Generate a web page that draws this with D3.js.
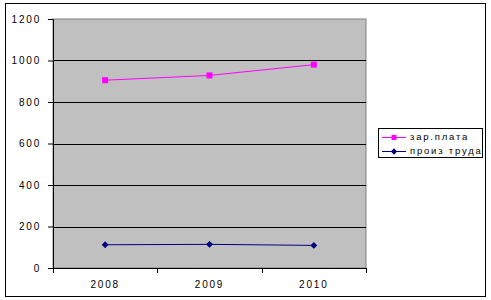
<!DOCTYPE html>
<html>
<head>
<meta charset="utf-8">
<script src="https://cdn.jsdelivr.net/npm/d3@7"></script>
<style>
  body { margin: 0; background: #fff; }
  text { font-family: Arial, "Liberation Sans", sans-serif; font-size: 10px; fill: #000; }
</style>
</head>
<body>
<div id="chart"></div>
<script>
// Data
const years = ['2008', '2009', '2010'];
const salary = [905, 928, 980];       // зар.плата
const productivity = [112, 114, 109]; // произ труда
const yTicks = [0, 200, 400, 600, 800, 1000, 1200];
const seriesNames = ['зар.плата', 'произ труда'];

const width = 491, height = 300;
const margin = { top: 19, right: 125, bottom: 32, left: 53 };
const plotW = width - margin.left - margin.right;
const plotH = height - margin.top - margin.bottom;

const svg = d3.select('#chart').append('svg')
    .attr('width', width)
    .attr('height', height);

// Outer chart frame
svg.append('rect')
    .attr('x', 5.5).attr('y', 3.5)
    .attr('width', 480).attr('height', 293)
    .attr('fill', '#fff')
    .attr('stroke', '#000')
    .attr('stroke-width', 1);

const chart = svg.append('g')
    .attr('transform', `translate(${margin.left},${margin.top})`);

const x = d3.scaleBand().domain(years).range([0, plotW]);
const y = d3.scaleLinear().domain([0, 1200]).range([plotH, 0]);

// Plot area
chart.append('rect')
    .attr('width', plotW).attr('height', plotH)
    .attr('fill', '#c0c0c0')
    .attr('stroke', '#808080');

// Gridlines
chart.selectAll('.grid')
    .data(yTicks.slice(1, -1))
    .join('line')
    .attr('class', 'grid')
    .attr('x1', 0).attr('x2', plotW)
    .attr('y1', d => Math.round(y(d)) + 0.5)
    .attr('y2', d => Math.round(y(d)) + 0.5)
    .attr('stroke', '#000');

// Y axis
const yAxis = chart.append('g')
    .call(d3.axisLeft(y).tickValues(yTicks).tickFormat(d3.format('d')).tickSize(5).tickPadding(7));
yAxis.select('.domain').attr('stroke', '#000');
yAxis.selectAll('text')
    .style('letter-spacing', '1.8px')
    .style('font-family', 'Arial, "Liberation Sans", sans-serif')
    .style('font-size', '10px');

// X axis with ticks between categories
const xAxisG = chart.append('g')
    .attr('transform', `translate(0,${plotH})`);
xAxisG.append('line')
    .attr('x1', 0).attr('x2', plotW)
    .attr('y1', 0.5).attr('y2', 0.5)
    .attr('stroke', '#000');
const boundaries = years.map(d => x(d)).concat([plotW]);
xAxisG.selectAll('.xtick')
    .data(boundaries)
    .join('line')
    .attr('class', 'xtick')
    .attr('x1', d => Math.round(d) + 0.5).attr('x2', d => Math.round(d) + 0.5)
    .attr('y1', 0).attr('y2', 5)
    .attr('stroke', '#000');
xAxisG.selectAll('.xlabel')
    .data(years)
    .join('text')
    .attr('class', 'xlabel')
    .attr('x', d => x(d) + x.bandwidth() / 2)
    .attr('y', 20)
    .attr('text-anchor', 'middle')
    .style('letter-spacing', '1.8px')
    .text(d => d);

const cx = d => x(d) + x.bandwidth() / 2;
const line = d3.line().x((d, i) => cx(years[i])).y(d => y(d));

// Series: salary
chart.append('path')
    .datum(salary)
    .attr('d', line)
    .attr('fill', 'none')
    .attr('stroke', '#ff00ff')
    .attr('stroke-width', 1);
chart.selectAll('.sq')
    .data(salary)
    .join('rect')
    .attr('class', 'sq')
    .attr('x', (d, i) => cx(years[i]) - 3)
    .attr('y', d => y(d) - 3)
    .attr('width', 6).attr('height', 6)
    .attr('fill', '#ff00ff');

// Series: productivity
chart.append('path')
    .datum(productivity)
    .attr('d', line)
    .attr('fill', 'none')
    .attr('stroke', '#000080')
    .attr('stroke-width', 1);
chart.selectAll('.dm')
    .data(productivity)
    .join('path')
    .attr('class', 'dm')
    .attr('d', d3.symbol(d3.symbolDiamond2, 30))
    .attr('transform', (d, i) => `translate(${cx(years[i])},${y(d)})`)
    .attr('fill', '#000080');

// Legend
const legend = svg.append('g')
    .attr('transform', 'translate(378,128)');
legend.append('rect')
    .attr('x', 0.5).attr('y', 0.5)
    .attr('width', 104).attr('height', 29)
    .attr('fill', '#fff')
    .attr('stroke', '#000');

const colors = ['#ff00ff', '#000080'];
const items = legend.selectAll('.item')
    .data(seriesNames)
    .join('g')
    .attr('class', 'item')
    .attr('transform', (d, i) => `translate(0,${9 + i * 14})`);
items.append('line')
    .attr('x1', 4).attr('x2', 28)
    .attr('y1', 0.5).attr('y2', 0.5)
    .attr('stroke', (d, i) => colors[i]);
items.append('path')
    .attr('d', (d, i) => d3.symbol(i === 0 ? d3.symbolSquare : d3.symbolDiamond2, 25)())
    .attr('transform', 'translate(16,0.5)')
    .attr('fill', (d, i) => colors[i]);
items.append('text')
    .attr('x', 32)
    .attr('y', 0)
    .attr('dy', '0.35em')
    .style('letter-spacing', '1.8px')
    .style('font-size', '9.5px')
    .text(d => d);
</script>
</body>
</html>
